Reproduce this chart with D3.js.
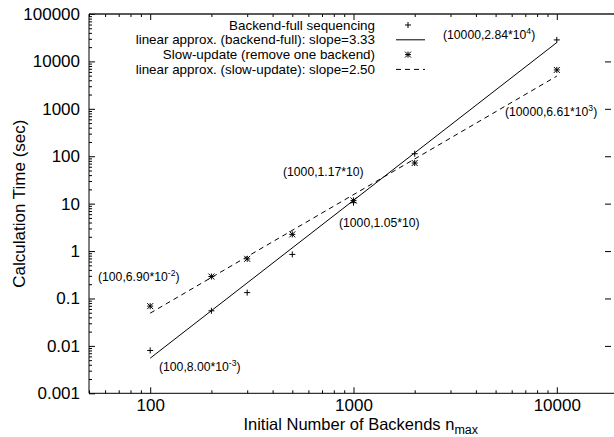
<!DOCTYPE html>
<html>
<head>
<meta charset="utf-8">
<script src="https://cdn.jsdelivr.net/npm/d3@7"></script>
<style>
  body { margin: 0; background: #fff; }
  svg { font-family: "Liberation Sans", Arial, Helvetica, sans-serif; }
  .tick text { font-size: 17px; fill: #000; }
  .domain { display: none; }
</style>
</head>
<body>
<svg id="chart" width="614" height="437"></svg>
<script>
// ---- data ----
const backends = [100, 200, 300, 500, 1000, 2000, 10000];
const fullTime = [0.008, 0.055, 0.133, 0.85, 10.5, 113, 28400];
const slowTime = [0.069, 0.29, 0.685, 2.25, 11.7, 72, 6610];
// end points of the two fitted lines
const fitFull = [[100, 0.0055], [10000, 25000]];
const fitSlow = [[100, 0.049], [10000, 4900]];

const xMajor = [100, 1000, 10000];
const yMajor = [0.001, 0.01, 0.1, 1, 10, 100, 1000, 10000, 100000];
const yLabels = ["0.001", "0.01", "0.1", "1", "10", "100", "1000", "10000", "100000"];

const legendItems = [
  {label: "Backend-full sequencing", kind: "plus"},
  {label: "linear approx. (backend-full): slope=3.33", kind: "solid"},
  {label: "Slow-update (remove one backend)", kind: "star"},
  {label: "linear approx. (slow-update): slope=2.50", kind: "dashed"}
];

// point annotations: base text, optional superscript
const notes = [
  {text: "(10000,2.84*10", sup: "4", x: 443, y: 39},
  {text: "(10000,6.61*10", sup: "3", x: 505, y: 116},
  {text: "(1000,1.17*10", sup: "", x: 283, y: 176},
  {text: "(1000,1.05*10", sup: "", x: 339, y: 227},
  {text: "(100,6.90*10", sup: "-2", x: 98, y: 281},
  {text: "(100,8.00*10", sup: "-3", x: 159, y: 371}
];

const svg = d3.select("#chart");
const mLeft = 89, mRight = 618, mTop = 14, mBottom = 393.3;

const x = d3.scaleLog().domain([50, 20000]).range([mLeft, mRight]);
const y = d3.scaleLog().domain([0.001, 100000]).range([mBottom, mTop]);

// minor tick values
let xMinor = [];
[10, 100, 1000, 10000].forEach(p => {
  for (let k = 2; k <= 9; k++) if (k * p >= 50 && k * p <= 20000) xMinor.push(k * p);
});
let yMinor = [];
yMajor.slice(0, -1).forEach(p => {
  for (let k = 2; k <= 9; k++) yMinor.push(k * p);
});

// axes
svg.append("g").attr("transform", `translate(0,${mBottom})`)
  .call(d3.axisBottom(x).tickValues(xMinor).tickSize(-3).tickFormat(""));
svg.append("g").attr("transform", `translate(0,${mBottom})`)
  .call(d3.axisBottom(x).tickValues(xMajor).tickSize(-6).tickPadding(6).tickFormat(d3.format("d")));
svg.append("g").attr("transform", `translate(0,${mTop})`)
  .call(d3.axisTop(x).tickValues(xMinor).tickSize(-3).tickFormat(""));
svg.append("g").attr("transform", `translate(0,${mTop})`)
  .call(d3.axisTop(x).tickValues(xMajor).tickSize(-6).tickFormat(""));

svg.append("g").attr("transform", `translate(${mLeft},0)`)
  .call(d3.axisLeft(y).tickValues(yMinor).tickSize(-3).tickFormat(""));
svg.append("g").attr("transform", `translate(${mLeft},0)`)
  .call(d3.axisLeft(y).tickValues(yMajor).tickSize(-6).tickPadding(9)
    .tickFormat((d, i) => yLabels[i]));
svg.append("g").attr("transform", `translate(611,0)`)
  .call(d3.axisRight(y).tickValues(yMajor.slice(1, -1)).tickSize(-6).tickFormat(""));

svg.selectAll(".tick line").attr("stroke", "#000");

// border
svg.append("line").attr("x1", mLeft).attr("x2", 614).attr("y1", mTop).attr("y2", mTop)
  .attr("stroke", "#222").attr("stroke-width", 1.3);
svg.append("line").attr("x1", mLeft).attr("x2", 614).attr("y1", mBottom).attr("y2", mBottom)
  .attr("stroke", "#000");
svg.append("line").attr("x1", mLeft).attr("x2", mLeft).attr("y1", mTop).attr("y2", mBottom)
  .attr("stroke", "#000");

// axis titles
svg.append("text")
  .attr("transform", `translate(25,${(mTop + mBottom) / 2}) rotate(-90)`)
  .attr("text-anchor", "middle")
  .style("font-size", "17px")
  .text("Calculation Time (sec)");

const xt = svg.append("text")
  .attr("x", 478).attr("y", 430)
  .attr("text-anchor", "end")
  .style("font-size", "16.5px");
xt.append("tspan").text("Initial Number of Backends n");
xt.append("tspan").attr("dy", 4).style("font-size", "12.5px").text("max");

// fitted lines
const line = d3.line().x(d => x(d[0])).y(d => y(d[1]));
svg.append("path").attr("d", line(fitFull))
  .attr("fill", "none").attr("stroke", "#000").attr("stroke-width", 1);
svg.append("path").attr("d", line(fitSlow))
  .attr("fill", "none").attr("stroke", "#000").attr("stroke-width", 1)
  .attr("stroke-dasharray", "5,4");

// markers
const plusPath = (cx, cy, r) => `M${cx - r},${cy}H${cx + r}M${cx},${cy - r}V${cy + r}`;
const starPath = (cx, cy, r) => plusPath(cx, cy, r) +
  `M${cx - r},${cy - r}L${cx + r},${cy + r}M${cx - r},${cy + r}L${cx + r},${cy - r}`;

svg.selectAll("path.full")
  .data(backends.map((n, i) => [n, fullTime[i]]))
  .join("path")
  .attr("class", "full")
  .attr("d", d => plusPath(x(d[0]), y(d[1]), 3))
  .attr("stroke", "#000").attr("fill", "none");

svg.selectAll("path.slow")
  .data(backends.map((n, i) => [n, slowTime[i]]))
  .join("path")
  .attr("class", "slow")
  .attr("d", d => starPath(x(d[0]), y(d[1]), 3))
  .attr("stroke", "#000").attr("fill", "none");

// legend
legendItems.forEach((d, i) => {
  const ly = 25 + i * 14.8;
  svg.append("text")
    .attr("x", 375).attr("y", ly).attr("dy", "0.35em")
    .attr("text-anchor", "end")
    .style("font-size", "13.4px")
    .text(d.label);
  if (d.kind === "plus") {
    svg.append("path").attr("d", plusPath(408, ly, 3)).attr("stroke", "#000");
  } else if (d.kind === "star") {
    svg.append("path").attr("d", starPath(408, ly, 3)).attr("stroke", "#000");
  } else {
    svg.append("line").attr("x1", 396).attr("x2", 425).attr("y1", ly).attr("y2", ly)
      .attr("stroke", "#000")
      .attr("stroke-dasharray", d.kind === "dashed" ? "5,4" : null);
  }
});

// annotations
notes.forEach(d => {
  const t = svg.append("text").attr("x", d.x).attr("y", d.y).style("font-size", "12.2px");
  t.append("tspan").text(d.text);
  if (d.sup) {
    t.append("tspan").attr("dy", -5).style("font-size", "8.6px").text(d.sup);
    t.append("tspan").attr("dy", 5).text(")");
  } else {
    t.append("tspan").text(")");
  }
});
</script>
</body>
</html>
